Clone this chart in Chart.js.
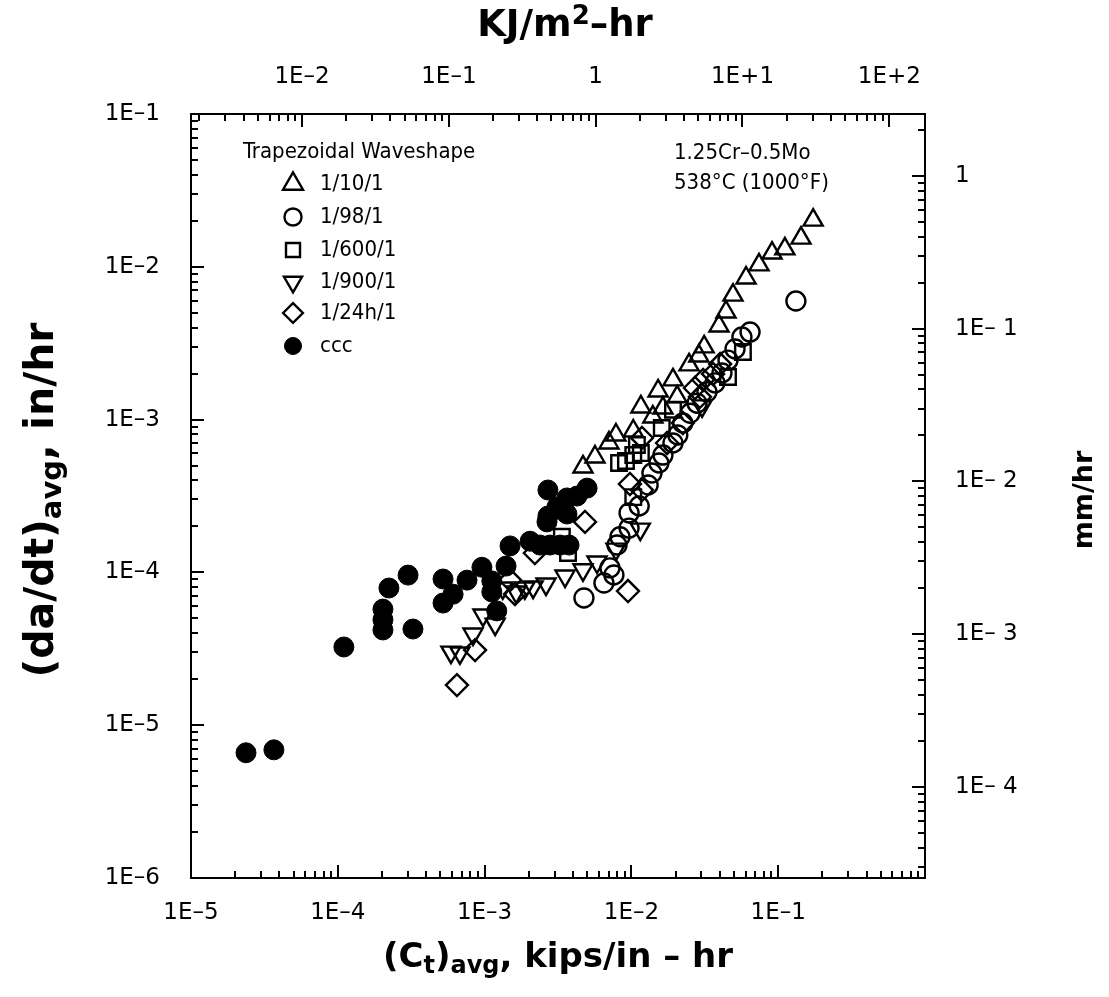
<!DOCTYPE html>
<html>
<head>
<meta charset="utf-8">
<script src="https://cdn.jsdelivr.net/npm/chart.js@4.4.1/dist/chart.umd.min.js"></script>
<style>
html,body{margin:0;padding:0;background:#fff;}
#wrap{width:1109px;height:997px;position:relative;}
</style>
</head>
<body>
<div id="wrap"><canvas id="c" width="1109" height="997"></canvas></div>
<script>
// ---------------- DATA ----------------
const seriesNames = ['1/10/1', '1/98/1', '1/600/1', '1/900/1', '1/24h/1', 'ccc'];

// 1/10/1 (open triangles)
const tri_x = [4.68e-3, 5.65e-3, 7.03e-3, 7.85e-3, 1.03e-2, 1.16e-2, 1.40e-2, 1.52e-2, 1.64e-2, 1.92e-2, 2.05e-2, 2.47e-2, 2.88e-2, 3.13e-2, 3.95e-2, 4.41e-2, 4.92e-2, 6.04e-2, 7.40e-2, 9.08e-2, 0.111, 0.143, 0.173];
const tri_y = [4.90e-4, 5.69e-4, 7.03e-4, 7.93e-4, 8.42e-4, 1.21e-3, 1.04e-3, 1.54e-3, 1.19e-3, 1.82e-3, 1.41e-3, 2.28e-3, 2.61e-3, 2.99e-3, 4.10e-3, 5.06e-3, 6.53e-3, 8.45e-3, 1.03e-2, 1.23e-2, 1.31e-2, 1.54e-2, 2.02e-2];

// 1/98/1 (open circles)
const cir_x = [0.132, 6.43e-2, 5.66e-2, 5.08e-2, 4.55e-2, 4.14e-2, 3.71e-2, 3.27e-2, 2.80e-2, 2.51e-2, 2.24e-2, 2.07e-2, 1.92e-2, 1.64e-2, 1.54e-2, 1.38e-2, 1.30e-2, 1.13e-2, 9.64e-3, 9.64e-3, 8.36e-3, 7.98e-3, 7.14e-3, 7.60e-3, 6.50e-3, 4.75e-3];
const cir_y = [5.97e-3, 3.74e-3, 3.47e-3, 2.90e-3, 2.45e-3, 2.02e-3, 1.74e-3, 1.52e-3, 1.28e-3, 1.10e-3, 9.50e-4, 7.93e-4, 7.03e-4, 5.86e-4, 5.20e-4, 4.47e-4, 3.73e-4, 2.72e-4, 2.45e-4, 1.95e-4, 1.71e-4, 1.51e-4, 1.07e-4, 9.62e-5, 8.52e-5, 6.80e-5];

// 1/600/1 (open squares)
const sq_x = [3.36e-3, 3.70e-3, 8.24e-3, 9.18e-3, 1.03e-2, 1.09e-2, 1.16e-2, 1.61e-2, 1.92e-2, 4.55e-2, 5.75e-2, 1.03e-2];
const sq_y = [1.71e-4, 1.34e-4, 5.20e-4, 5.36e-4, 5.86e-4, 6.82e-4, 6.04e-4, 8.81e-4, 1.16e-3, 1.90e-3, 2.77e-3, 3.11e-4];

// 1/900/1 (open inverted triangles)
const inv_x = [5.90e-4, 6.79e-4, 8.34e-4, 9.75e-4, 1.18e-3, 1.33e-3, 1.64e-3, 1.88e-3, 2.14e-3, 2.62e-3, 3.53e-3, 4.68e-3, 5.83e-3, 7.85e-3, 1.15e-2, 3.03e-2];
const inv_y = [3.01e-5, 2.97e-5, 3.95e-5, 5.26e-5, 4.59e-5, 7.91e-5, 7.44e-5, 7.91e-5, 8.02e-5, 8.39e-5, 9.47e-5, 1.04e-4, 1.17e-4, 1.42e-4, 1.92e-4, 1.23e-3];

// 1/24h/1 (open diamonds)
const dia_x = [6.48e-4, 8.61e-4, 1.49e-3, 1.61e-3, 2.20e-3, 4.83e-3, 9.48e-3, 9.77e-3, 1.18e-2, 1.18e-2, 1.75e-2, 2.24e-2, 2.71e-2, 2.93e-2, 3.08e-2, 3.60e-2, 4.02e-2];
const dia_y = [1.83e-5, 3.10e-5, 8.91e-5, 7.22e-5, 1.34e-4, 2.14e-4, 7.55e-5, 3.79e-4, 3.46e-4, 7.59e-4, 7.03e-4, 9.50e-4, 1.61e-3, 1.41e-3, 1.82e-3, 1.99e-3, 2.31e-3];

// ccc (filled circles)
const ccc_x = [2.37e-5, 3.67e-5, 1.10e-4, 2.03e-4, 2.03e-4, 2.03e-4, 2.23e-4, 3.01e-4, 3.25e-4, 5.21e-4, 5.21e-4, 6.10e-4, 7.59e-4, 9.59e-4, 1.12e-3, 1.12e-3, 1.21e-3, 1.40e-3, 1.49e-3, 2.04e-3, 2.38e-3, 2.79e-3, 3.27e-3, 3.76e-3, 2.70e-3, 2.70e-3, 2.66e-3, 3.11e-3, 3.64e-3, 3.64e-3, 4.26e-3, 4.99e-3];
const ccc_y = [6.6e-6, 6.9e-6, 3.25e-5, 4.2e-5, 4.9e-5, 5.75e-5, 7.9e-5, 9.6e-5, 4.26e-5, 9.05e-5, 6.3e-5, 7.2e-5, 8.9e-5, 1.08e-4, 8.8e-5, 7.45e-5, 5.6e-5, 1.10e-4, 1.49e-4, 1.60e-4, 1.51e-4, 1.51e-4, 1.51e-4, 1.51e-4, 3.46e-4, 2.34e-4, 2.14e-4, 2.68e-4, 3.07e-4, 2.41e-4, 3.16e-4, 3.56e-4];

// Axis ranges and tick labels
const xMin = 1e-5, xMax = 1;
const yMin = 1e-6, yMax = 1e-1;
const KJ_PER_KIPS = 175.1;   // kips/in-hr -> KJ/m2-hr
const MM_PER_IN = 25.4;      // in/hr -> mm/hr
const xTickValues = [1e-5, 1e-4, 1e-3, 1e-2, 1e-1];
const xTickLabels = ['1E\u20135', '1E\u20134', '1E\u20133', '1E\u20132', '1E\u20131'];
const x2TickValues = [1e-2, 1e-1, 1, 10, 100];
const x2TickLabels = ['1E\u20132', '1E\u20131', '1', '1E+1', '1E+2'];
const yTickValues = [1e-6, 1e-5, 1e-4, 1e-3, 1e-2, 1e-1];
const yTickLabels = ['1E\u20136', '1E\u20135', '1E\u20134', '1E\u20133', '1E\u20132', '1E\u20131'];
const y2TickValues = [1e-4, 1e-3, 1e-2, 1e-1, 1];
const y2TickLabels = ['1E\u2013 4', '1E\u2013 3', '1E\u2013 2', '1E\u2013 1', '1'];

const legendTitle = 'Trapezoidal Waveshape';
const noteLines = ['1.25Cr\u20130.5Mo', '538\u00B0C (1000\u00B0F)'];

// ---------------- BUILD ----------------
function pts(xs, ys) { return xs.map((x, i) => ({ x: x, y: ys[i] })); }

const styles = [
  { pointStyle: 'triangle', rotation: 0, radius: 11, fill: false },
  { pointStyle: 'circle', rotation: 0, radius: 9.5, fill: false },
  { pointStyle: 'rect', rotation: 0, radius: 11, fill: false },
  { pointStyle: 'triangle', rotation: 180, radius: 11, fill: false },
  { pointStyle: 'rectRot', rotation: 0, radius: 11, fill: false },
  { pointStyle: 'circle', rotation: 0, radius: 10, fill: true }
];
const allData = [pts(tri_x, tri_y), pts(cir_x, cir_y), pts(sq_x, sq_y), pts(inv_x, inv_y), pts(dia_x, dia_y), pts(ccc_x, ccc_y)];

const datasets = allData.map((d, i) => ({
  label: seriesNames[i],
  data: d,
  xAxisID: 'x',
  yAxisID: 'y',
  showLine: false,
  pointStyle: styles[i].pointStyle,
  pointRotation: styles[i].rotation,
  pointRadius: styles[i].radius,
  pointHoverRadius: styles[i].radius,
  pointBorderWidth: styles[i].fill ? 1 : 2.4,
  pointBorderColor: '#000',
  pointBackgroundColor: styles[i].fill ? '#000' : 'rgba(0,0,0,0)'
}));

const TICK_FONT = { family: "'DejaVu Sans', sans-serif", size: 23 };
const TEXT_FONT = "22px 'DejaVu Sans Condensed', 'DejaVu Sans', sans-serif";

function fixedTicks(values) {
  return function (scale) { scale.ticks = values.map(v => ({ value: v })); };
}

function logMinor(min, max) {
  const out = [];
  const e0 = Math.floor(Math.log10(min)) - 1, e1 = Math.ceil(Math.log10(max)) + 1;
  for (let e = e0; e <= e1; e++) {
    for (let m = 1; m <= 9; m++) {
      const v = m * Math.pow(10, e);
      if (v > min * 1.0001 && v < max * 0.9999) out.push({ v: v, major: m === 1 });
    }
  }
  return out;
}

function drawMarker(ctx, st, x, y, scale) {
  const r = st.radius * (scale || 1);
  ctx.beginPath();
  if (st.pointStyle === 'circle') {
    ctx.arc(x, y, r, 0, Math.PI * 2);
  } else if (st.pointStyle === 'triangle') {
    const s = st.rotation === 180 ? -1 : 1;
    ctx.moveTo(x, y - s * r);
    ctx.lineTo(x + 0.866 * r, y + s * 0.5 * r);
    ctx.lineTo(x - 0.866 * r, y + s * 0.5 * r);
    ctx.closePath();
  } else if (st.pointStyle === 'rect') {
    const h = r / Math.SQRT2;
    ctx.rect(x - h, y - h, 2 * h, 2 * h);
  } else if (st.pointStyle === 'rectRot') {
    ctx.moveTo(x, y - r); ctx.lineTo(x + r, y); ctx.lineTo(x, y + r); ctx.lineTo(x - r, y); ctx.closePath();
  }
  if (st.fill) { ctx.fillStyle = '#000'; ctx.fill(); }
  ctx.lineWidth = st.fill ? 1 : 2.4;
  ctx.strokeStyle = '#000';
  ctx.stroke();
}

// rich text: parts [{t, size, dy}]
function drawRich(ctx, parts, cx, cy, rot) {
  ctx.save();
  ctx.translate(cx, cy);
  if (rot) ctx.rotate(rot);
  let total = 0;
  parts.forEach(p => { ctx.font = 'bold ' + p.size + "px 'DejaVu Sans', sans-serif"; total += ctx.measureText(p.t).width; });
  let x = -total / 2;
  ctx.fillStyle = '#000';
  ctx.textBaseline = 'middle';
  ctx.textAlign = 'left';
  parts.forEach(p => {
    ctx.font = 'bold ' + p.size + "px 'DejaVu Sans', sans-serif";
    ctx.fillText(p.t, x, p.dy || 0);
    x += ctx.measureText(p.t).width;
  });
  ctx.restore();
}

const decor = {
  id: 'decor',
  afterDraw(chart) {
    const ctx = chart.ctx;
    const a = chart.chartArea;
    const sx = chart.scales.x, sx2 = chart.scales.x2, sy = chart.scales.y, sy2 = chart.scales.y2;
    ctx.save();
    ctx.strokeStyle = '#000';
    ctx.lineWidth = 2;
    ctx.lineCap = 'butt';
    // frame
    ctx.strokeRect(a.left, a.top, a.right - a.left, a.bottom - a.top);
    const MAJ = 13, MIN = 7;
    ctx.beginPath();
    logMinor(sx.min, sx.max).forEach(t => {
      const p = Math.round(sx.getPixelForValue(t.v));
      ctx.moveTo(p, a.bottom); ctx.lineTo(p, a.bottom - (t.major ? MAJ : MIN));
    });
    logMinor(sx2.min, sx2.max).forEach(t => {
      const p = Math.round(sx2.getPixelForValue(t.v));
      ctx.moveTo(p, a.top); ctx.lineTo(p, a.top + (t.major ? MAJ : MIN));
    });
    logMinor(sy.min, sy.max).forEach(t => {
      const p = Math.round(sy.getPixelForValue(t.v));
      ctx.moveTo(a.left, p); ctx.lineTo(a.left + (t.major ? MAJ : MIN), p);
    });
    logMinor(sy2.min, sy2.max).forEach(t => {
      const p = Math.round(sy2.getPixelForValue(t.v));
      ctx.moveTo(a.right, p); ctx.lineTo(a.right - (t.major ? MAJ : MIN), p);
    });
    ctx.stroke();

    // legend
    ctx.font = TEXT_FONT;
    ctx.fillStyle = '#000';
    ctx.textBaseline = 'middle';
    ctx.textAlign = 'left';
    ctx.fillText(legendTitle, 243, 152);
    const rowY = [184, 217, 250, 282, 313, 346];
    const legScale = [1.05, 0.9, 0.9, 0.95, 0.9, 0.85];
    seriesNames.forEach((n, i) => {
      drawMarker(ctx, styles[i], 293, rowY[i], legScale[i]);
      ctx.font = TEXT_FONT;
      ctx.fillStyle = '#000';
      ctx.fillText(n, 320, rowY[i]);
    });
    // note
    ctx.fillText(noteLines[0], 674, 153);
    ctx.fillText(noteLines[1], 674, 183);

    // axis titles
    drawRich(ctx, [{ t: '(C', size: 34 }, { t: 't', size: 24, dy: 9 }, { t: ')', size: 34 }, { t: 'avg', size: 24, dy: 9 }, { t: ', kips/in \u2013 hr', size: 34 }], 558, 958, 0);
    drawRich(ctx, [{ t: '(da/dt)', size: 41 }, { t: 'avg', size: 29, dy: 11 }, { t: ', in/hr', size: 41 }], 42, 500, -Math.PI / 2);
    drawRich(ctx, [{ t: 'KJ/m', size: 37 }, { t: '2', size: 26, dy: -9 }, { t: '\u2013hr', size: 37 }], 565, 26, 0);
    drawRich(ctx, [{ t: 'mm/hr', size: 27 }], 1085, 500, -Math.PI / 2);
    ctx.restore();
  }
};

const noGrid = { display: false, drawTicks: false };
const noBorder = { display: false };

new Chart(document.getElementById('c'), {
  type: 'scatter',
  data: { datasets: datasets },
  options: {
    responsive: false,
    animation: false,
    devicePixelRatio: 1,
    layout: { padding: 0 },
    plugins: { legend: { display: false }, tooltip: { enabled: false } },
    scales: {
      x: {
        type: 'logarithmic', position: 'bottom', min: xMin, max: xMax,
        grid: noGrid, border: noBorder,
        afterBuildTicks: fixedTicks(xTickValues),
        afterFit: s => { s.height = 119; },
        ticks: { autoSkip: false, maxRotation: 0, padding: 21, color: '#000', font: TICK_FONT, callback: (v, i) => xTickLabels[i] }
      },
      x2: {
        type: 'logarithmic', position: 'top', min: xMin * KJ_PER_KIPS, max: xMax * KJ_PER_KIPS,
        grid: noGrid, border: noBorder,
        afterBuildTicks: fixedTicks(x2TickValues),
        afterFit: s => { s.height = 114; },
        ticks: { autoSkip: false, maxRotation: 0, padding: 23, color: '#000', font: TICK_FONT, callback: (v, i) => x2TickLabels[i] }
      },
      y: {
        type: 'logarithmic', position: 'left', min: yMin, max: yMax,
        grid: noGrid, border: noBorder,
        afterBuildTicks: fixedTicks(yTickValues),
        afterFit: s => { s.width = 191; },
        ticks: { autoSkip: false, padding: 31, color: '#000', font: TICK_FONT, callback: (v, i) => yTickLabels[i] }
      },
      y2: {
        type: 'logarithmic', position: 'right', min: yMin * MM_PER_IN, max: yMax * MM_PER_IN,
        grid: noGrid, border: noBorder,
        afterBuildTicks: fixedTicks(y2TickValues),
        afterFit: s => { s.width = 184; },
        ticks: { autoSkip: false, padding: 30, color: '#000', font: TICK_FONT, callback: (v, i) => y2TickLabels[i] }
      }
    }
  },
  plugins: [decor]
});
</script>
</body>
</html>
